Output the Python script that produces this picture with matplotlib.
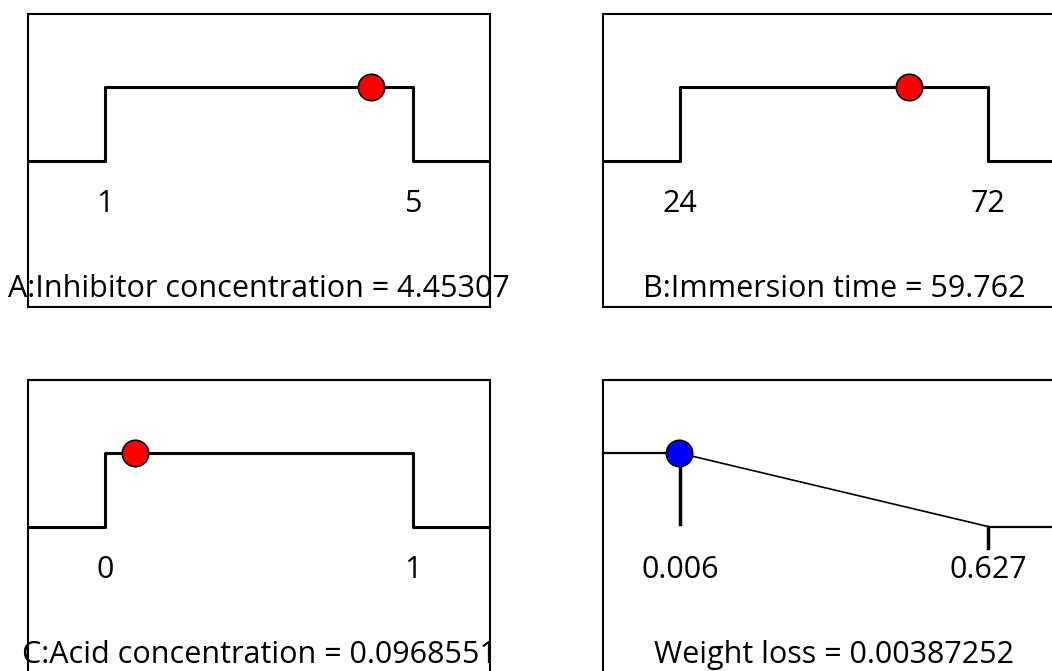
import numpy as np
import matplotlib
matplotlib.use("Agg")
import matplotlib.pyplot as plt

plt.rcParams['font.family'] = ['Open Sans', 'DejaVu Sans']

# desirability ramps: three factors (in range) and one response (minimize)
names = ["A:Inhibitor concentration", "B:Immersion time", "C:Acid concentration", "Weight loss"]
lows = [1, 24, 0, 0.006]
highs = [5, 72, 1, 0.627]
low_labels = ["1", "24", "0", "0.006"]
high_labels = ["5", "72", "1", "0.627"]
values = [4.45307, 59.762, 0.0968551, 0.00387252]
value_labels = ["4.45307", "59.762", "0.0968551", "0.00387252"]
kinds = ["range", "range", "range", "minimize"]
dot_colors = ["#ff0000", "#ff0000", "#ff0000", "#0000ff"]

W, H = 1052, 671
fig = plt.figure(figsize=(W / 100, H / 100), dpi=100)

# panel boxes in pixels: (left, top)
boxes = [(28, 14), (603, 14), (28, 380), (603, 380)]
bw, bh = 462, 293

for i in range(4):
    left, top = boxes[i]
    ax = fig.add_axes([left / W, (H - top - bh) / H, bw / W, bh / H])
    lo, hi = lows[i], highs[i]
    r = hi - lo
    xmin, xmax = lo - 0.25 * r, hi + 0.25 * r
    ax.set_xlim(xmin, xmax)
    ax.set_ylim(-2, 2)
    ax.set_xticks([])
    ax.set_yticks([])
    for s in ax.spines.values():
        s.set_linewidth(1.5)
        s.set_color("black")

    if kinds[i] == "range":
        ax.plot([xmin, lo, lo, hi, hi, xmax], [0, 0, 1, 1, 0, 0], color="black", lw=2.2, zorder=2)
    else:
        ax.plot([xmin, lo], [1, 1], color="black", lw=1.6, zorder=2)
        ax.plot([lo, hi], [1, 0], color="black", lw=1.2, zorder=2)
        ax.plot([hi, xmax], [0, 0], color="black", lw=1.6, zorder=2)
        ax.plot([lo, lo], [1, 0.03], color="black", lw=2.5, zorder=2)
        ax.plot([hi, hi], [0, -0.29], color="black", lw=2.5, zorder=2)

    ax.plot([values[i]], [1], marker="o", markersize=19, markerfacecolor=dot_colors[i],
            markeredgecolor="black", markeredgewidth=1.2, zorder=3)

    ax.text(lo, -0.59, low_labels[i], ha="center", va="center", fontsize=22)
    ax.text(hi, -0.59, high_labels[i], ha="center", va="center", fontsize=22)
    ax.text((xmin + xmax) / 2, -1.75, names[i] + " = " + value_labels[i],
            ha="center", va="center", fontsize=22, clip_on=False)

fig.savefig("out.png", dpi=100)
